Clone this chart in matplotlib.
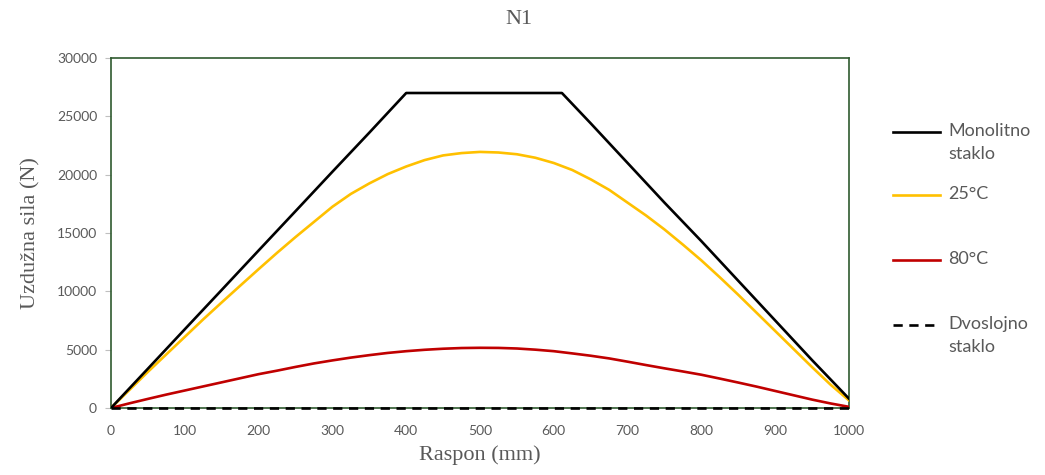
import matplotlib
matplotlib.use("Agg")
import matplotlib.pyplot as plt
from matplotlib.lines import Line2D

# Span positions (mm)
x_mm = list(range(0, 1001, 25))
x_mono = [0, 50, 100, 150, 200, 250, 300, 350, 400, 450, 500, 550, 611,
          650, 700, 750, 800, 850, 900, 950, 1000]

# Longitudinal force (N)
monolitno = [0, 3370, 6750, 10120, 13500, 16870, 20250, 23600, 27000, 27000,
             27000, 27000, 27000, 24400, 21000, 17600, 14300, 10900, 7500,
             4100, 800]
t25 = [0, 1550, 3100, 4600, 6100, 7600, 9050, 10480, 11900, 13300, 14650,
       15950, 17250, 18350, 19250, 20050, 20700, 21250, 21650, 21850, 21950,
       21900, 21750, 21450, 21000, 20400, 19600, 18700, 17600, 16500, 15300,
       14000, 12650, 11200, 9700, 8150, 6600, 5050, 3500, 2000, 650]
t80 = [0, 400, 780, 1150, 1500, 1850, 2200, 2550, 2900, 3200, 3520, 3820,
       4080, 4320, 4530, 4720, 4870, 4990, 5080, 5140, 5160, 5150, 5100, 5000,
       4870, 4680, 4480, 4250, 3970, 3680, 3400, 3130, 2850, 2520, 2180, 1830,
       1460, 1090, 720, 390, 100]
dvoslojno = [0] * len(x_mm)

labels = ["Monolitno\nstaklo", "25°C", "80°C", "Dvoslojno\nstaklo"]
x_ticks = list(range(0, 1001, 100))
y_ticks = list(range(0, 30001, 5000))

W, H = 1045, 475
fig = plt.figure(figsize=(W / 100, H / 100), dpi=100)
ax = fig.add_axes([111 / W, 1 - 408 / H, (849 - 111) / W, (408 - 58) / H])

grey = "#595959"
frame = "#2f5a2f"
lw = 1.9

ax.plot(x_mono, monolitno, color="black", lw=lw, zorder=4)
ax.plot(x_mm, t25, color="#FFC000", lw=lw, zorder=3)
ax.plot(x_mm, t80, color="#C00000", lw=lw, zorder=3)
ax.plot(x_mm, dvoslojno, color="black", lw=lw, ls=(0, (3.5, 2.5)), zorder=5,
        clip_on=False)

ax.set_xlim(0, 1000)
ax.set_ylim(0, 30000)
ax.set_xticks(x_ticks)
ax.set_yticks(y_ticks)

tick_font = dict(family="Lato", size=10, color=grey)
ax.set_xticklabels([str(v) for v in x_ticks], **tick_font)
ax.set_yticklabels([str(v) for v in y_ticks], **tick_font)
ax.tick_params(axis="x", length=0, pad=12)
ax.tick_params(axis="y", length=4, width=0.8, color="#bfbfbf", pad=6)

for s in ax.spines.values():
    s.set_color(frame)
    s.set_linewidth(1.2)

serif = dict(family="Liberation Serif", size=16, color=grey)
ax.set_xlabel("Raspon (mm)", labelpad=6, **serif)
ax.set_ylabel("Uzdužna sila (N)", labelpad=12, **serif)
fig.text(519 / W, 1 - 20 / H, "N1", ha="center", va="center",
         family="Liberation Serif", size=16, color=grey)

# Legend drawn in figure pixels
styles = [dict(color="black", ls="-"),
          dict(color="#FFC000", ls="-"),
          dict(color="#C00000", ls="-"),
          dict(color="black", ls=(0, (3.5, 2.5)))]
ys = [132, 195, 260, 325]
for lab, st, y in zip(labels, styles, ys):
    fy = 1 - y / H
    fig.add_artist(Line2D([893 / W, 940 / W], [fy, fy], lw=lw,
                          transform=fig.transFigure, **st))
    fig.text(948 / W, fy + 9 / H, lab, ha="left", va="top",
             family="Lato", size=13, color=grey, linespacing=1.55)

fig.savefig("out.png", dpi=100)
